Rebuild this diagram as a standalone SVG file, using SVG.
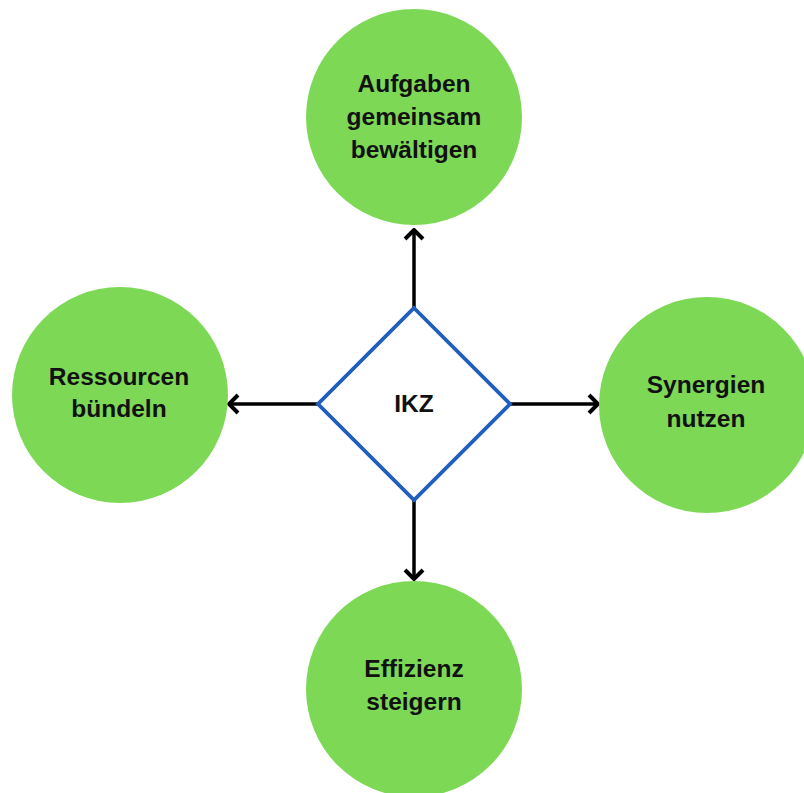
<svg xmlns="http://www.w3.org/2000/svg" width="804" height="793" viewBox="0 0 804 793">
<style>
.node circle{fill:#7DD856;}
.lbl{font-family:"Liberation Sans",Arial,sans-serif;font-weight:bold;font-size:24.5px;fill:#111;text-anchor:middle;}
.conn line{stroke:#000;stroke-width:3.5;fill:none;}
</style>
<defs>
<marker id="arr" markerUnits="userSpaceOnUse" viewBox="-12 -12 14 24" refX="0" refY="0" markerWidth="14" markerHeight="24" orient="auto">
<path d="M-9,-9 L0,0 L-9,9" fill="none" stroke="#000" stroke-width="4" stroke-linejoin="miter"/>
</marker>
</defs>
<rect width="804" height="793" fill="#fff"/>
<g id="connectors" class="conn">
<line x1="414" y1="308" x2="414" y2="230" marker-end="url(#arr)"/>
<line x1="317" y1="404" x2="229" y2="404" marker-end="url(#arr)"/>
<line x1="510" y1="404" x2="598" y2="404" marker-end="url(#arr)"/>
<line x1="414" y1="500" x2="414" y2="579" marker-end="url(#arr)"/>
</g>
<g id="node-top" class="node">
<circle cx="414" cy="117" r="108"/>
<text class="lbl" x="414" y="92">Aufgaben</text>
<text class="lbl" x="414" y="125">gemeinsam</text>
<text class="lbl" x="414" y="158">bewältigen</text>
</g>
<g id="node-left" class="node">
<circle cx="120" cy="395" r="108"/>
<text class="lbl" x="119" y="385">Ressourcen</text>
<text class="lbl" x="119" y="417">bündeln</text>
</g>
<g id="node-right" class="node">
<circle cx="707" cy="405" r="108"/>
<text class="lbl" x="706" y="393">Synergien</text>
<text class="lbl" x="706" y="427">nutzen</text>
</g>
<g id="node-bottom" class="node">
<circle cx="414" cy="689" r="108"/>
<text class="lbl" x="414" y="677">Effizienz</text>
<text class="lbl" x="414" y="710">steigern</text>
</g>
<g id="node-center">
<polygon points="414,308 510,404 414,500 318,404" fill="#fff" stroke="#1F5EBD" stroke-width="3.8"/>
<text class="lbl" x="414" y="412">IKZ</text>
</g>
</svg>
